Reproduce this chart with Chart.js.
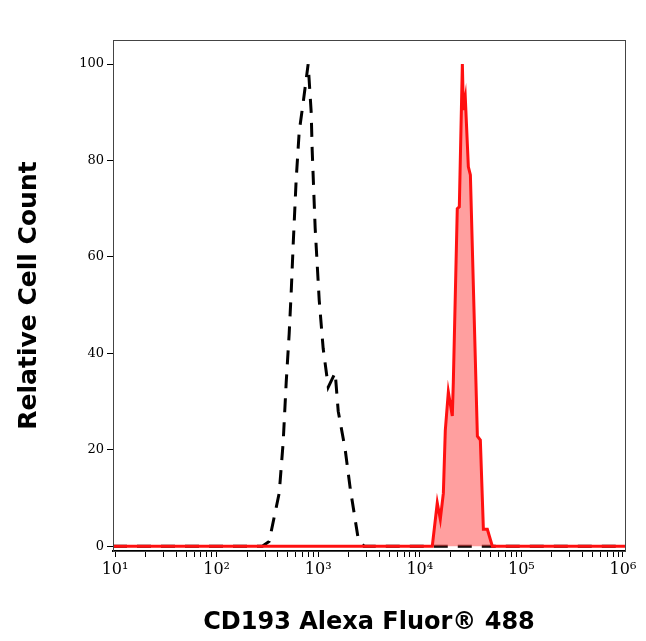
<!DOCTYPE html>
<html><head><meta charset="utf-8">
<script src="https://cdn.jsdelivr.net/npm/chart.js@4"></script>
<style>html,body{margin:0;padding:0;background:#fff}</style>
</head><body>
<canvas id="c" width="646" height="641" style="width:646px;height:641px"></canvas>
<script>
// Control (dashed): log10 of fluorescence and relative count
const controlExp = [0.98, 2.45, 2.517, 2.616, 2.655, 2.685, 2.714, 2.734, 2.754, 2.783, 2.813, 2.852, 2.901, 2.931, 2.941, 2.970, 3.010, 3.049, 3.099, 3.167, 3.197, 3.266, 3.315, 3.394, 3.45, 6.02];
const controlCount = [0, 0, 1, 11, 21.5, 34, 44, 52.6, 62.7, 76, 86, 92, 100, 90, 82, 66, 51, 41, 33, 36, 28, 20, 12, 1.5, 0, 0];
// Stained (red filled)
const stainedExp = [0.98, 4.10, 4.123, 4.172, 4.202, 4.232, 4.251, 4.281, 4.320, 4.330, 4.369, 4.389, 4.419, 4.429, 4.448, 4.478, 4.498, 4.567, 4.596, 4.626, 4.665, 4.714, 4.74, 6.02];
const stainedCount = [0, 0, 0, 9, 5.6, 11, 24, 32, 27, 34, 70, 70.4, 100, 90.5, 93, 78.7, 77, 22.8, 22, 3.5, 3.5, 0, 0, 0];
const yTicks = [0, 20, 40, 60, 80, 100];
const sup = {'1':'¹','2':'²','3':'³','4':'⁴','5':'⁵','6':'⁶'};

const toPts = (e, v) => e.map((x, i) => ({x: Math.pow(10, x), y: v[i]}));

const boxPlugin = {id:'box', afterDraw(c){
  const a=c.chartArea, g=c.ctx; g.save(); g.strokeStyle='#444'; g.lineWidth=1;
  g.strokeRect(a.left+0.5,a.top+0.5,a.right-a.left,a.bottom-a.top); g.restore();}};

new Chart(document.getElementById('c'), {
  type:'line',
  data:{datasets:[
    {data:toPts(stainedExp, stainedCount), borderColor:'#ff1010', backgroundColor:'rgba(255,80,80,0.55)', fill:'origin', borderWidth:3, pointRadius:0, tension:0},
    {data:toPts(controlExp, controlCount), borderColor:'#000', borderDash:[14,10], fill:false, borderWidth:3, pointRadius:0, tension:0}
  ]},
  options:{responsive:false, animation:false, devicePixelRatio:1,
    layout:{padding:{top:40,right:21,left:0,bottom:0}},
    plugins:{legend:{display:false}, tooltip:{enabled:false}},
    scales:{
      x:{type:'logarithmic', min:Math.pow(10,0.98), max:Math.pow(10,6.02),
        afterBuildTicks(s){ const t=[]; for(let d=1; d<=6; d++){ for(let m=1;m<=9;m++){ const v=m*Math.pow(10,d); if(v<=s.max && (d<6||m==1)) t.push({value:v}); } } s.ticks=t; },
        afterFit(s){ s.height=90; },
        grid:{drawOnChartArea:false, drawTicks:true, tickLength:6, color:'#000'},
        border:{color:'#000', width:2},
        ticks:{autoSkip:false, maxRotation:0, color:'#000', font:{family:'DejaVu Serif', size:16}},
        title:{display:true, text:'CD193 Alexa Fluor® 488', color:'#000', font:{family:'DejaVu Sans', weight:'bold', size:24}, padding:{top:4}}
      },
      y:{min:-1, max:105,
        afterBuildTicks(s){ s.ticks = yTicks.map(v=>({value:v})); },
        afterFit(s){ s.width=113; },
        grid:{drawOnChartArea:false, drawTicks:true, tickLength:6, color:'#000'},
        border:{color:'#000', width:1},
        ticks:{color:'#000', font:{family:'DejaVu Serif', size:13}},
        title:{display:true, text:'Relative Cell Count', color:'#000', font:{family:'DejaVu Sans', weight:'bold', size:25}, padding:{top:14,bottom:8}}
      }
    }
  },
  plugins:[boxPlugin]
});
// tick label callback assigned after creation for clarity
const ch = Chart.getChart('c');
ch.options.scales.x.ticks.callback = function(v){ const e=Math.log10(v); if(Math.abs(e-Math.round(e))<1e-6){ return '10'+sup[String(Math.round(e))]; } return ''; };
ch.update();
</script>
</body></html>
